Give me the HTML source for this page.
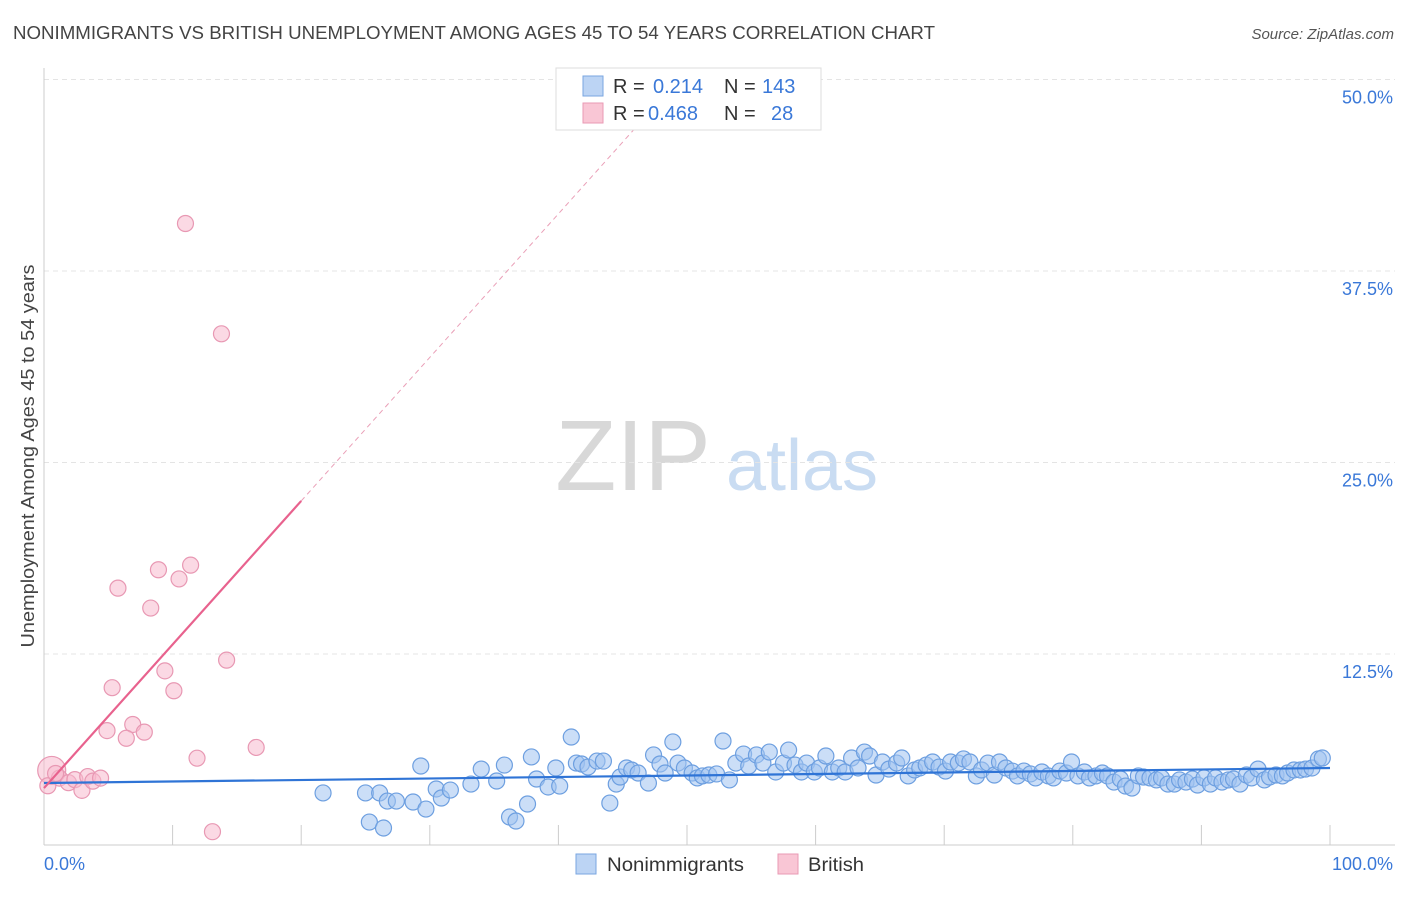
<!DOCTYPE html>
<html><head><meta charset="utf-8"><style>
body{margin:0;background:#fff;font-family:"Liberation Sans",sans-serif;}
svg text{font-family:"Liberation Sans",sans-serif;}
</style></head><body>
<svg id="chart" width="1406" height="892">
<text x="13" y="39" font-size="18" fill="#444" textLength="922" lengthAdjust="spacingAndGlyphs">NONIMMIGRANTS VS BRITISH UNEMPLOYMENT AMONG AGES 45 TO 54 YEARS CORRELATION CHART</text>
<text x="1394" y="39" font-size="15" fill="#555" font-style="italic" text-anchor="end">Source: ZipAtlas.com</text>
<g>
<text x="633" y="490" font-size="100" fill="#d8d8d8" font-family="Liberation Serif,serif" text-anchor="middle">ZIP</text>
<text x="802" y="490" font-size="72" fill="#c9dcf2" text-anchor="middle">atlas</text>
</g>
<g id="grid"></g>
<g id="axes"></g>
<g id="marks"></g>
<text transform="translate(34,456) rotate(-90)" font-size="18" fill="#444" text-anchor="middle" textLength="383" lengthAdjust="spacingAndGlyphs">Unemployment Among Ages 45 to 54 years</text>
<g>
<rect x="556" y="68" width="265" height="62" fill="#fff" stroke="#ddd"/>
<rect x="583" y="76" width="20" height="20" fill="#bcd4f4" stroke="#7aa6e0"/>
<rect x="583" y="103" width="20" height="20" fill="#f9c6d5" stroke="#e99ab4"/>
<text x="613" y="93" font-size="20" fill="#333">R = <tspan fill="#3a78d8" x="653">0.214</tspan><tspan x="724">N = </tspan><tspan fill="#3a78d8" x="762">143</tspan></text>
<text x="613" y="120" font-size="20" fill="#333">R = <tspan fill="#3a78d8" x="648">0.468</tspan><tspan x="724">N = </tspan><tspan fill="#3a78d8" x="771">28</tspan></text>
</g>
<g>
<rect x="576" y="854" width="20" height="20" fill="#bcd4f4" stroke="#7aa6e0"/>
<text x="607" y="871" font-size="19" fill="#333" textLength="137" lengthAdjust="spacingAndGlyphs">Nonimmigrants</text>
<rect x="778" y="854" width="20" height="20" fill="#f9c6d5" stroke="#e99ab4"/>
<text x="808" y="871" font-size="19" fill="#333" textLength="56" lengthAdjust="spacingAndGlyphs">British</text>
</g>
</svg>
<script>
const blueX=[21.7,25.0,25.3,26.1,26.4,26.7,27.4,28.7,29.3,29.7,30.5,30.9,31.6,33.2,34.0,35.2,35.8,36.2,36.7,37.6,37.9,38.3,39.2,39.8,40.1,41.0,41.4,41.8,42.3,43.0,43.5,44.0,44.5,44.8,45.3,45.7,46.2,47.0,47.4,47.9,48.3,48.9,49.3,49.8,50.4,50.8,51.2,51.7,52.3,52.8,53.3,53.8,54.4,54.8,55.4,55.9,56.4,56.9,57.5,57.9,58.4,58.9,59.3,59.9,60.3,60.8,61.3,61.8,62.3,62.8,63.3,63.8,64.2,64.7,65.2,65.7,66.3,66.7,67.2,67.7,68.1,68.6,69.1,69.6,70.1,70.5,71.1,71.5,72.0,72.5,72.9,73.4,73.9,74.3,74.8,75.3,75.7,76.2,76.7,77.1,77.6,78.1,78.5,79.0,79.5,79.9,80.4,80.9,81.3,81.8,82.3,82.7,83.2,83.7,84.1,84.6,85.1,85.5,86.0,86.5,86.9,87.4,87.9,88.3,88.8,89.3,89.7,90.2,90.7,91.1,91.6,92.1,92.5,93.0,93.5,93.9,94.4,94.9,95.3,95.8,96.3,96.7,97.2,97.7,98.1,98.6,99.1,99.4];
const blueY=[3.43,3.43,1.53,3.43,1.14,2.9,2.9,2.84,5.19,2.38,3.69,3.1,3.62,4.01,4.99,4.21,5.25,1.86,1.6,2.71,5.78,4.34,3.82,5.06,3.88,7.08,5.38,5.32,5.12,5.51,5.51,2.77,4.01,4.47,5.06,4.93,4.73,4.08,5.91,5.32,4.73,6.76,5.38,5.06,4.73,4.41,4.54,4.6,4.67,6.82,4.28,5.38,5.97,5.19,5.91,5.38,6.1,4.8,5.38,6.23,5.25,4.8,5.38,4.8,5.06,5.84,4.8,5.06,4.8,5.71,5.06,6.1,5.84,4.6,5.45,4.99,5.38,5.71,4.54,4.93,5.06,5.25,5.45,5.12,4.86,5.45,5.38,5.65,5.45,4.54,4.93,5.38,4.6,5.45,5.06,4.86,4.54,4.86,4.67,4.41,4.8,4.54,4.41,4.86,4.73,5.45,4.54,4.8,4.41,4.54,4.73,4.54,4.14,4.34,3.88,3.75,4.54,4.47,4.41,4.28,4.41,4.01,4.01,4.28,4.14,4.34,3.95,4.41,4.01,4.41,4.14,4.28,4.34,4.01,4.6,4.41,4.99,4.28,4.47,4.6,4.54,4.73,4.93,4.93,4.99,5.06,5.65,5.71];
const pinkX=[11.0,13.8,5.75,8.9,11.4,10.5,8.3,14.2,9.4,5.3,10.1,6.9,4.9,7.8,6.4,16.5,11.9,13.1,0.6,1.2,1.9,2.4,2.95,3.4,3.8,4.4,0.3,0.9];
const pinkY=[40.6,33.4,16.8,18.0,18.3,17.4,15.5,12.1,11.4,10.3,10.1,7.9,7.5,7.4,7.0,6.4,5.7,0.9,4.9,4.4,4.1,4.3,3.6,4.5,4.2,4.4,3.9,4.7];
const blueTrend=[4.08,5.06];
const pinkTrend=[3.75,0.937];
const yTicks=[12.5,25,37.5,50];
const xTicks=[10,20,30,40,50,60,70,80,90,100];
const NS="http://www.w3.org/2000/svg";
const X=v=>44+v*12.86, Y=v=>845.5-v*15.32;
function mk(tag,attrs,parent){const e=document.createElementNS(NS,tag);for(const k in attrs)e.setAttribute(k,attrs[k]);document.getElementById(parent).appendChild(e);return e;}
yTicks.forEach(t=>{
 const l=mk('line',{x1:44,x2:1395,y1:Y(t),y2:Y(t),stroke:'#e4e4e4','stroke-dasharray':'5,4'},'grid');
 
 
 const tx=mk('text',{x:1393,y:Y(t)+24,'font-size':18,fill:'#3a78d8','text-anchor':'end'},'grid');
 tx.textContent=t.toFixed(1)+'%';
 
 
});
const ax=mk('line',{x1:44,x2:1395,y1:845,y2:845,stroke:'#ccc'},'axes');


const ay=mk('line',{x1:44,x2:44,y1:68,y2:845,stroke:'#ccc'},'axes');


xTicks.forEach(t=>{
 const l=mk('line',{x1:X(t),x2:X(t),y1:825,y2:845,stroke:'#ccc'},'axes');
 
 
});
const x0=mk('text',{x:44,y:870,'font-size':18,fill:'#3a78d8'},'axes');x0.textContent='0.0%';


const x1=mk('text',{x:1393,y:870,'font-size':18,fill:'#3a78d8','text-anchor':'end'},'axes');x1.textContent='100.0%';


blueX.forEach((v,i)=>{
 const c=mk('circle',{cx:X(v),cy:Y(blueY[i]),r:8,fill:'rgba(160,195,240,0.55)',stroke:'#6d9fe0','stroke-width':1.2},'marks');
 
 
});
pinkX.forEach((v,i)=>{
 const c=mk('circle',{cx:X(v),cy:Y(pinkY[i]),r:i==18?14:8,fill:'rgba(248,185,205,0.55)',stroke:'#e898b3','stroke-width':1.2},'marks');
 
 
});
const bl=mk('line',{x1:X(0),y1:Y(blueTrend[0]),x2:X(100),y2:Y(blueTrend[1]),stroke:'#2f74d6','stroke-width':2.2},'marks');


const pl=mk('line',{x1:X(0),y1:Y(pinkTrend[0]),x2:X(20),y2:Y(pinkTrend[0]+pinkTrend[1]*20),stroke:'#e8628e','stroke-width':2.2},'marks');


const pd=mk('line',{x1:X(20),y1:Y(pinkTrend[0]+pinkTrend[1]*20),x2:X(46.5),y2:Y(pinkTrend[0]+pinkTrend[1]*46.5),stroke:'#eaa0b8','stroke-width':1,'stroke-dasharray':'5,4'},'marks');


</script>
</body></html>
